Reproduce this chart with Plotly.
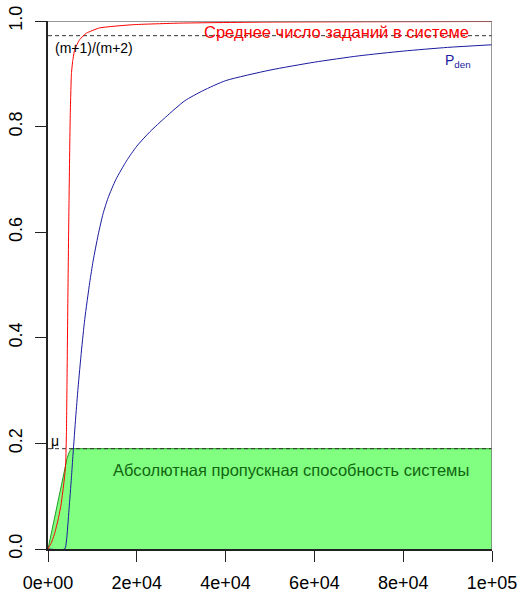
import plotly.graph_objects as go

# ---- data ----
red_x = [0, 770, 1510, 2255, 2865, 3385, 3765, 3990, 4150, 4285, 4510, 4735,
         5005, 5275, 5570, 6020, 7150, 8660, 11660, 19100, 29700, 50000, 100000]
red_y = [0, 0.012, 0.03, 0.055, 0.08, 0.112, 0.14, 0.163, 0.22, 0.32, 0.5, 0.66,
         0.82, 0.9, 0.925, 0.946, 0.965, 0.977, 0.987, 0.993, 0.996, 0.998, 0.999]

blue_x = [0, 3765, 4150, 4735, 5275, 5640, 6245, 6765, 7530, 8275, 9400, 10150,
          11300, 12400, 13530, 15300, 17680, 20000, 22930, 26500, 30820, 34880,
          40000, 50000, 60000, 70000, 80000, 90000, 100000]
blue_y = [0, 0, 0.015, 0.075, 0.135, 0.18, 0.25, 0.305, 0.375, 0.435, 0.505, 0.545,
          0.595, 0.635, 0.665, 0.70, 0.735, 0.763, 0.79, 0.818, 0.849, 0.868,
          0.887, 0.907, 0.922, 0.934, 0.943, 0.95, 0.955]

green_x = [0, 3765, 4300, 4800, 5300, 100000]
green_y = [0, 0.153, 0.172, 0.184, 0.19, 0.19]

mu_level = 0.19
ratio_level = 0.9722  # (m+1)/(m+2)
x_range = [0, 100000]
x_ticks = [0, 20000, 40000, 60000, 80000, 100000]
x_tick_text = ["0e+00", "2e+04", "4e+04", "6e+04", "8e+04", "1e+05"]
y_ticks = [0, 0.2, 0.4, 0.6, 0.8, 1.0]
y_tick_text = ["0.0", "0.2", "0.4", "0.6", "0.8", "1.0"]

FONT = "Liberation Sans, Arial, Helvetica, sans-serif"

fig = go.Figure()
fig.add_trace(go.Scatter(x=green_x, y=green_y, mode="lines", fill="tozeroy",
                         fillcolor="#80FF80", line=dict(color="#1E9E1E", width=1),
                         hoverinfo="skip"))
fig.add_trace(go.Scatter(x=x_range, y=[mu_level, mu_level], mode="lines",
                         line=dict(color="#333333", width=1, dash="4px,3px")))
fig.add_trace(go.Scatter(x=x_range, y=[ratio_level, ratio_level], mode="lines",
                         line=dict(color="#333333", width=1, dash="4px,3px")))
fig.add_trace(go.Scatter(x=blue_x, y=blue_y, mode="lines",
                         line=dict(color="#1A1AA0", width=1, shape="spline",
                                   smoothing=0.6)))
fig.add_trace(go.Scatter(x=red_x, y=red_y, mode="lines",
                         line=dict(color="#FF0000", width=1, shape="spline",
                                   smoothing=0.4)))

# top and right frame lines (grey)
fig.add_shape(type="line", xref="x", yref="y", x0=0, x1=100000, y0=1, y1=1,
              line=dict(color="#777777", width=1.5))
fig.add_shape(type="line", xref="x", yref="y", x0=100000, x1=100000, y0=0, y1=1,
              line=dict(color="#777777", width=1.5))

fig.add_annotation(x=1130, y=0.949, xref="x", yref="y", text="(m+1)/(m+2)",
                   showarrow=False, xanchor="left", yanchor="middle",
                   font=dict(family=FONT, size=14, color="black"))
fig.add_annotation(x=65040, y=0.980, xref="x", yref="y",
                   text="Среднее число заданий в системе",
                   showarrow=False, xanchor="center", yanchor="middle",
                   font=dict(family=FONT, size=16.5, color="#FF0000"))
fig.add_annotation(x=88900, y=0.925, xref="x", yref="y", text="P<sub>den</sub>",
                   showarrow=False, xanchor="left", yanchor="middle",
                   font=dict(family=FONT, size=14, color="#1A1AA0"))
fig.add_annotation(x=300, y=0.204, xref="x", yref="y", text="μ",
                   showarrow=False, xanchor="left", yanchor="middle",
                   font=dict(family=FONT, size=14, color="black"))
fig.add_annotation(x=54800, y=0.150, xref="x", yref="y",
                   text="Абсолютная пропускная способность системы",
                   showarrow=False, xanchor="center", yanchor="middle",
                   font=dict(family=FONT, size=16.5, color="#116611"))

fig.update_layout(
    width=522, height=593,
    margin=dict(l=48, r=30, t=21, b=44, autoexpand=False),
    paper_bgcolor="white", plot_bgcolor="white",
    showlegend=False,
    font=dict(family=FONT, size=18, color="black"),
    xaxis=dict(range=x_range, tickvals=x_ticks, ticktext=x_tick_text,
               showgrid=False, zeroline=False, showline=True, linecolor="#222222",
               linewidth=1.5, ticks="outside", ticklen=11, tickcolor="#222222",
               tickwidth=1, tickfont=dict(size=18), ticklabelstandoff=6,
               automargin=False),
    yaxis=dict(range=[0, 1], tickvals=y_ticks, ticktext=y_tick_text,
               showgrid=False, zeroline=False, showline=True, linecolor="#222222",
               linewidth=1.5, ticks="outside", ticklen=11, tickcolor="#222222",
               tickwidth=1, tickangle=-90, tickfont=dict(size=18),
               ticklabelstandoff=6, automargin=False),
)

fig.write_html("out.html")
